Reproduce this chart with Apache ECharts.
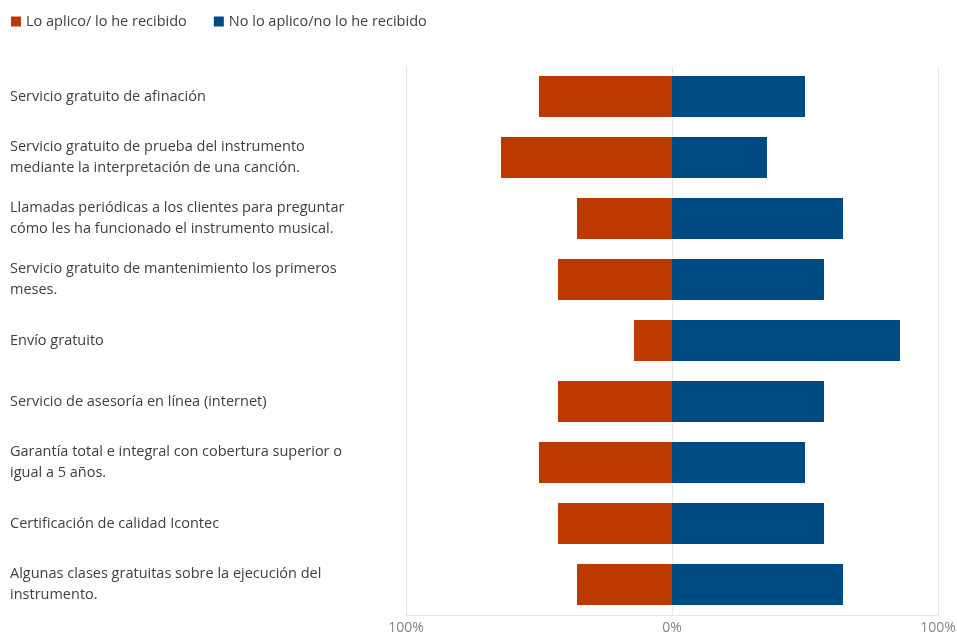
<!DOCTYPE html>
<html>
<head>
<meta charset="utf-8">
<script src="https://cdn.jsdelivr.net/npm/echarts@6/dist/echarts.min.js"></script>
<style>
  html, body { margin: 0; padding: 0; background: #fff; }
  #chart { width: 957px; height: 635px; }
</style>
</head>
<body>
<div id="chart"></div>
<script>
// Survey items, top to bottom
const categories = [
  'Servicio gratuito de afinación',
  'Servicio gratuito de prueba del instrumento\nmediante la interpretación de una canción.',
  'Llamadas periódicas a los clientes para preguntar\ncómo les ha funcionado el instrumento musical.',
  'Servicio gratuito de mantenimiento los primeros\nmeses.',
  'Envío gratuito',
  'Servicio de asesoría en línea (internet)',
  'Garantía total e integral con cobertura superior o\nigual a 5 años.',
  'Certificación de calidad Icontec',
  'Algunas clases gratuitas sobre la ejecución del\ninstrumento.'
];

// Share of respondents (%) per answer
const seriesNames = ['Lo aplico/ lo he recibido', 'No lo aplico/no lo he recibido'];
const applied    = [50.00, 64.29, 35.71, 42.86, 14.29, 42.86, 50.00, 42.86, 35.71];
const notApplied = [50.00, 35.71, 64.29, 57.14, 85.71, 57.14, 50.00, 57.14, 64.29];

const xTicks = [-100, 0, 100];

const FONT = 'Open Sans';

const chart = echarts.init(document.getElementById('chart'), null, { renderer: 'canvas' });

chart.setOption({
  animation: false,
  backgroundColor: '#ffffff',
  textStyle: { fontFamily: FONT },
  color: ['#BC3A00', '#004A84'],
  legend: {
    left: 6,
    top: 9,
    icon: 'rect',
    itemWidth: 10,
    itemHeight: 10,
    itemGap: 27,
    textStyle: { fontFamily: FONT, fontSize: 14.5, color: '#404040' },
    data: seriesNames
  },
  grid: {
    left: 406,
    right: 19,
    top: 66,
    bottom: 20,
    containLabel: false,
    outerBoundsMode: 'none'
  },
  xAxis: {
    type: 'value',
    min: xTicks[0],
    max: xTicks[xTicks.length - 1],
    interval: 100,
    axisLine: { show: true, lineStyle: { color: '#e6e6e6', width: 1 } },
    axisTick: { show: false },
    splitLine: { show: true, lineStyle: { color: '#e6e6e6', width: 1 } },
    axisLabel: {
      margin: 6,
      fontFamily: FONT,
      fontSize: 14,
      color: '#858585',
      formatter: v => Math.abs(v) + '%'
    }
  },
  yAxis: {
    type: 'category',
    inverse: true,
    data: categories,
    axisLine: { show: false },
    axisTick: { show: false },
    splitLine: { show: false },
    axisLabel: {
      align: 'left',
      margin: 396,
      fontFamily: FONT,
      fontSize: 14.5,
      lineHeight: 21,
      padding: [4, 0, 0, 0],
      color: '#404040'
    }
  },
  series: [
    {
      name: seriesNames[0],
      type: 'bar',
      stack: 'total',
      barCategoryGap: '33%',
      data: applied.map(v => -v),
      itemStyle: { color: '#BC3A00' }
    },
    {
      name: seriesNames[1],
      type: 'bar',
      stack: 'total',
      barCategoryGap: '33%',
      data: notApplied,
      itemStyle: { color: '#004A84' }
    }
  ]
});
</script>
</body>
</html>
